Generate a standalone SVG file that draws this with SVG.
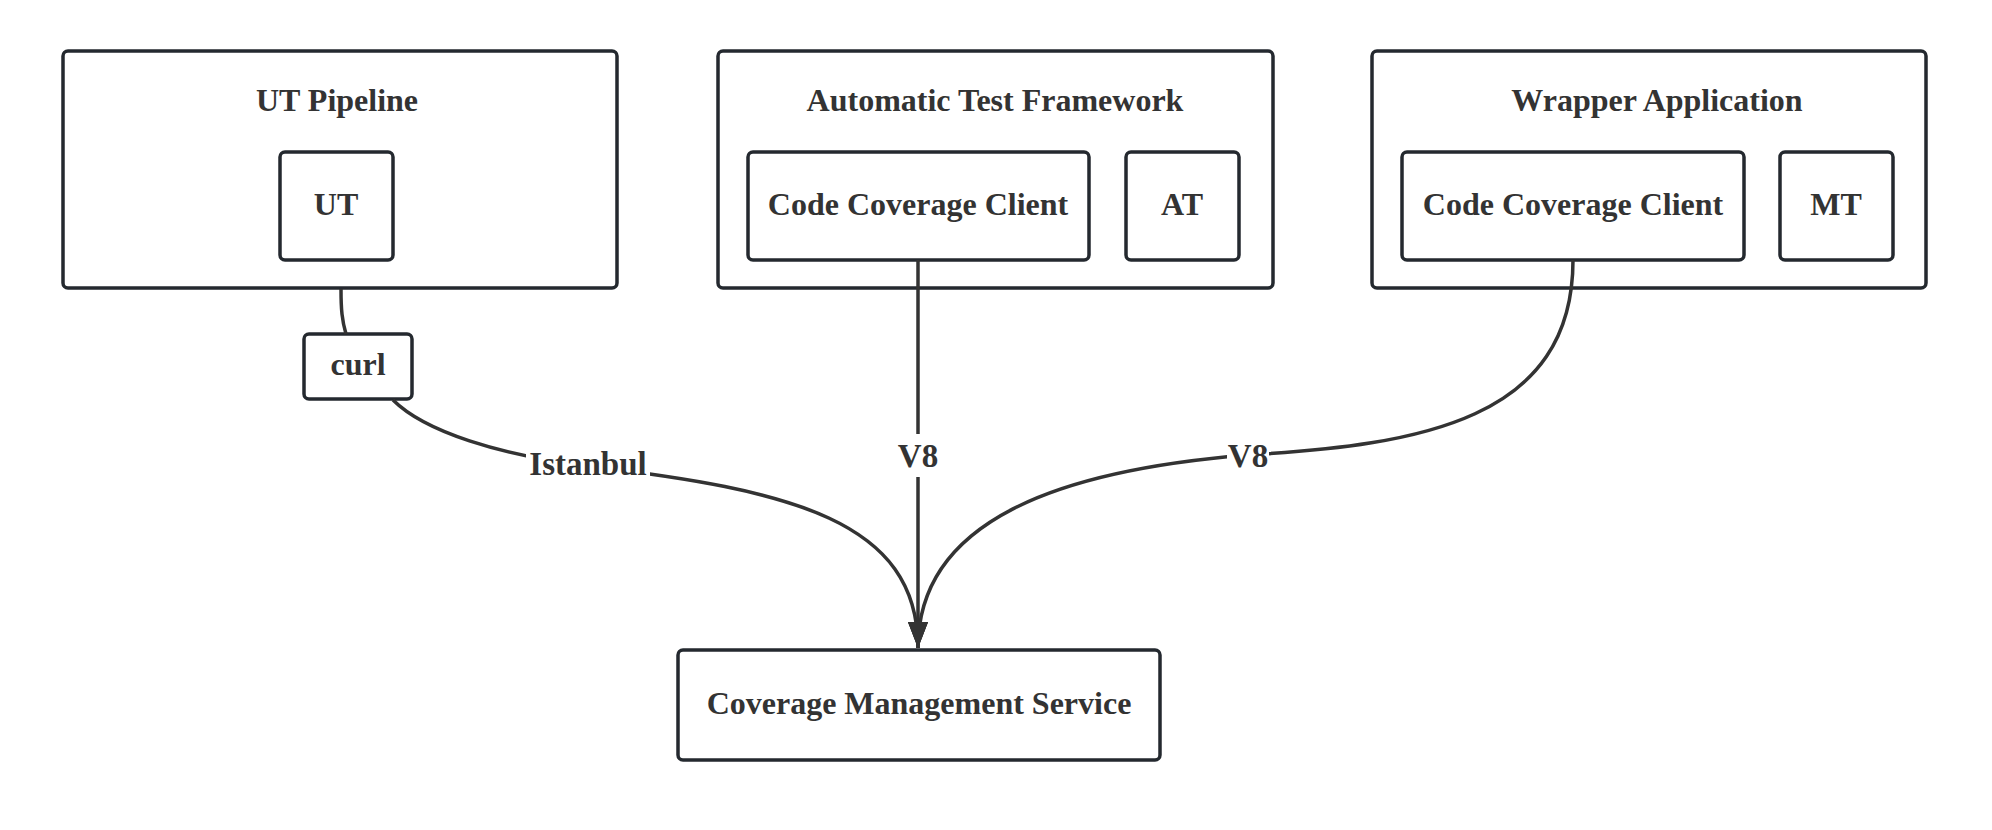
<svg xmlns="http://www.w3.org/2000/svg" width="1992" height="830" viewBox="0 0 1992 830">
<style>
.box{fill:#fff;stroke:#24292f;stroke-width:3.5}
.t{font-family:"Liberation Serif","Times New Roman",serif;font-weight:bold;font-size:32px;fill:#333;text-anchor:middle}
.lbl{font-size:33px}
.edge{fill:none;stroke:#333;stroke-width:3.5}
.lblbg{fill:#fff}
</style>
<defs>
<marker id="arrow" markerUnits="userSpaceOnUse" markerWidth="28" markerHeight="22" refX="26" refY="10" orient="auto">
<path d="M0,0 L26,10 L0,20 z" fill="#333"/>
</marker>
</defs>
<rect width="1992" height="830" fill="#fff"/>
<g id="ut-pipeline">
<rect class="box" x="63" y="51" width="554" height="237" rx="5"/>
<text class="t" x="337" y="111">UT Pipeline</text>
</g>
<g id="ut">
<rect class="box" x="280" y="152" width="113" height="108" rx="5"/>
<text class="t" x="336" y="215">UT</text>
</g>
<g id="atf">
<rect class="box" x="718" y="51" width="555" height="237" rx="5"/>
<text class="t" x="995" y="111">Automatic Test Framework</text>
</g>
<g id="ccc1">
<rect class="box" x="748" y="152" width="341" height="108" rx="5"/>
<text class="t" x="918" y="215">Code Coverage Client</text>
</g>
<g id="at">
<rect class="box" x="1126" y="152" width="113" height="108" rx="5"/>
<text class="t" x="1182" y="215">AT</text>
</g>
<g id="wrapper">
<rect class="box" x="1372" y="51" width="554" height="237" rx="5"/>
<text class="t" x="1657" y="111">Wrapper Application</text>
</g>
<g id="ccc2">
<rect class="box" x="1402" y="152" width="342" height="108" rx="5"/>
<text class="t" x="1573" y="215">Code Coverage Client</text>
</g>
<g id="mt">
<rect class="box" x="1780" y="152" width="113" height="108" rx="5"/>
<text class="t" x="1836" y="215">MT</text>
</g>
<g id="curl">
<rect class="box" x="304" y="334" width="108" height="65" rx="5"/>
<text class="t" x="358" y="375">curl</text>
</g>
<g id="cms">
<rect class="box" x="678" y="650" width="482" height="110" rx="5"/>
<text class="t" x="919" y="714">Coverage Management Service</text>
</g>
<g id="connectors">
<path class="edge" d="M341,289 C341,310 342,320 346,334"/>
<path class="edge" d="M393,400 C425,432 500,455 588,466 C790,490 918,520 918,648" marker-end="url(#arrow)"/>
<path class="edge" d="M918,260 L918,648" marker-end="url(#arrow)"/>
<path class="edge" d="M1573,260 C1573,420 1420,445 1248,455 C1060,470 918,520 918,648" marker-end="url(#arrow)"/>
<rect class="lblbg" x="526" y="447" width="124" height="36"/>
<text class="t lbl" x="588" y="475">Istanbul</text>
<rect class="lblbg" x="899" y="434" width="38" height="43"/>
<text class="t lbl" x="918" y="467">V8</text>
<rect class="lblbg" x="1227" y="436" width="42" height="34"/>
<text class="t lbl" x="1248" y="467">V8</text>
</g>
</svg>
